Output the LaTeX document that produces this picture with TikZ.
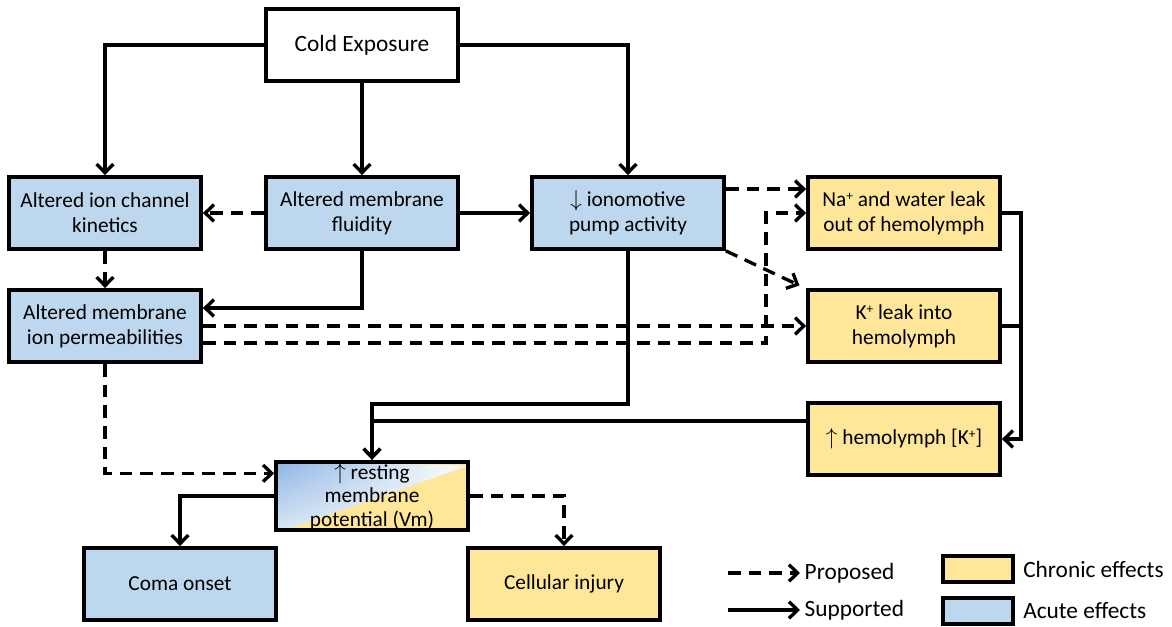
\documentclass[tikz,border=0pt]{standalone}
\usepackage{fontspec}
\setmainfont{Carlito}
\usetikzlibrary{arrows.meta,shadings}
\definecolor{acuteblue}{HTML}{BDD7EE}
\definecolor{chronicyellow}{HTML}{FFE699}
\definecolor{restblue}{HTML}{8DB4E2}
\newcommand{\ionplus}{\raisebox{4.5pt}{\fontsize{10}{10}\selectfont +}}

\begin{document}
\begin{tikzpicture}[x=0.75pt, y=-0.75pt, >={Straight Barb[length=6.5pt,width=12.5pt]},
every node/.style={font=\fontsize{16}{18.75}\selectfont},
bigtext/.style={font=\fontsize{17.5}{20}\selectfont},
effect/.style={draw,line width=2.8pt,minimum width=144pt,minimum height=54pt,align=center,inner sep=1pt},
acute/.style={effect,fill=acuteblue},
chronic/.style={effect,fill=chronicyellow},
restbox/.style={effect,inner sep=0pt,minimum height=51.5pt,
  path picture={
    \fill[chronicyellow] (path picture bounding box.south west) rectangle (path picture bounding box.north east);
    \shade[upper left=restblue,upper right=white,lower left=acuteblue!60!white,lower right=white]
      ([xshift=6pt]path picture bounding box.south west) -- (path picture bounding box.south west)
      -- (path picture bounding box.north west) -- ([yshift=-3pt]path picture bounding box.north east) -- cycle;
  }},
key/.style={draw,line width=2.8pt,minimum width=52pt,minimum height=20pt,inner sep=0pt},
supported/.style={->,line width=2.5pt},
proposed/.style={->,line width=2.5pt,dash pattern=on 9.5pt off 6pt}]
\useasboundingbox (0,0) rectangle (1172,627);

% boxes
\node[effect,bigtext] (cold) at (362,45) {Cold Exposure};
\node[acute] (chan) at (105,213) {Altered ion channel\\kinetics};
\node[acute] (fluid) at (362,213) {Altered membrane\\fluidity};
\node[acute] (pump) at (628,213) {$\downarrow$ ionomotive\\pump activity};
\node[chronic] (naleak) at (904,213) {Na\ionplus{} and water leak\\out of hemolymph};
\node[acute] (perm) at (105,326) {Altered membrane\\ion permeabilities};
\node[chronic] (kleak) at (904,326) {K\ionplus{} leak into\\hemolymph};
\node[chronic] (hemo) at (904,439) {$\uparrow$ hemolymph [K\ionplus]};
\node[restbox] (rest) at (372,496) {};
\node[align=center,inner sep=0pt,font=\fontsize{16}{17.5}\selectfont] (resttext) at ([yshift=-0.5pt]rest.center) {$\uparrow$ resting\\membrane\\potential (Vm)};
\node[acute] (coma) at (180,584) {Coma onset};
\node[chronic] (injury) at (564,584) {Cellular injury};

% cold exposure
\draw[supported] (cold.west) -| (chan.north);
\draw[supported] (cold) -- (fluid);
\draw[supported] (cold.east) -| (pump.north);
% membrane
\draw[proposed] (fluid) -- (chan);
\draw[supported] (fluid) -- (pump);
\draw[supported] (fluid.south) |- ([yshift=13.5pt]perm.east);
\draw[proposed] (chan) -- (perm);
\draw[proposed] (perm) -- (kleak);
\draw[proposed] ([yshift=-12.75pt]perm.east) -| ([xshift=-30pt]naleak.west) -- (naleak.west);
\draw[proposed] (perm.south) |- ([yshift=17pt]rest.west);
% pump
\draw[proposed] ([yshift=18pt]pump.east) -- ([yshift=18pt]naleak.west);
\draw[proposed] (pump.south east) -- ([xshift=-5pt,yshift=2pt]kleak.north west);
\draw[supported] (pump.south) -- ++(0,153) -| (rest.north);
% hemolymph
\coordinate (join) at (1021,0);
\draw[supported] (naleak.east) -| (join |- hemo.east) -- (hemo.east);
\draw[line width=2.5pt] (kleak.east) -- (join |- kleak.east);
\draw[supported] ([yshift=13.5pt]hemo.west) -| (rest.north);
% outcomes
\draw[supported] (rest.west) -| (coma.north);
\draw[proposed] (rest.east) -| (injury.north);

% legend
\coordinate (propstart) at (728,573);
\coordinate (supstart) at (728,610);
\node[anchor=west,bigtext] (proptext) at (800,573) {Proposed};
\node[anchor=west,bigtext] (suptext) at (800,610) {Supported};
\draw[proposed] (propstart) -- (proptext.west);
\draw[supported] (supstart) -- (suptext.west);
\node[key,fill=chronicyellow] (chronkey) at (978,569) {};
\node[key,fill=acuteblue] (acutekey) at (978,611) {};
\node[anchor=west,xshift=3pt,bigtext] (chrontext) at (chronkey.east) {Chronic effects};
\node[anchor=west,xshift=3pt,bigtext] (acutetext) at (acutekey.east) {Acute effects};
\end{tikzpicture}
\end{document}
